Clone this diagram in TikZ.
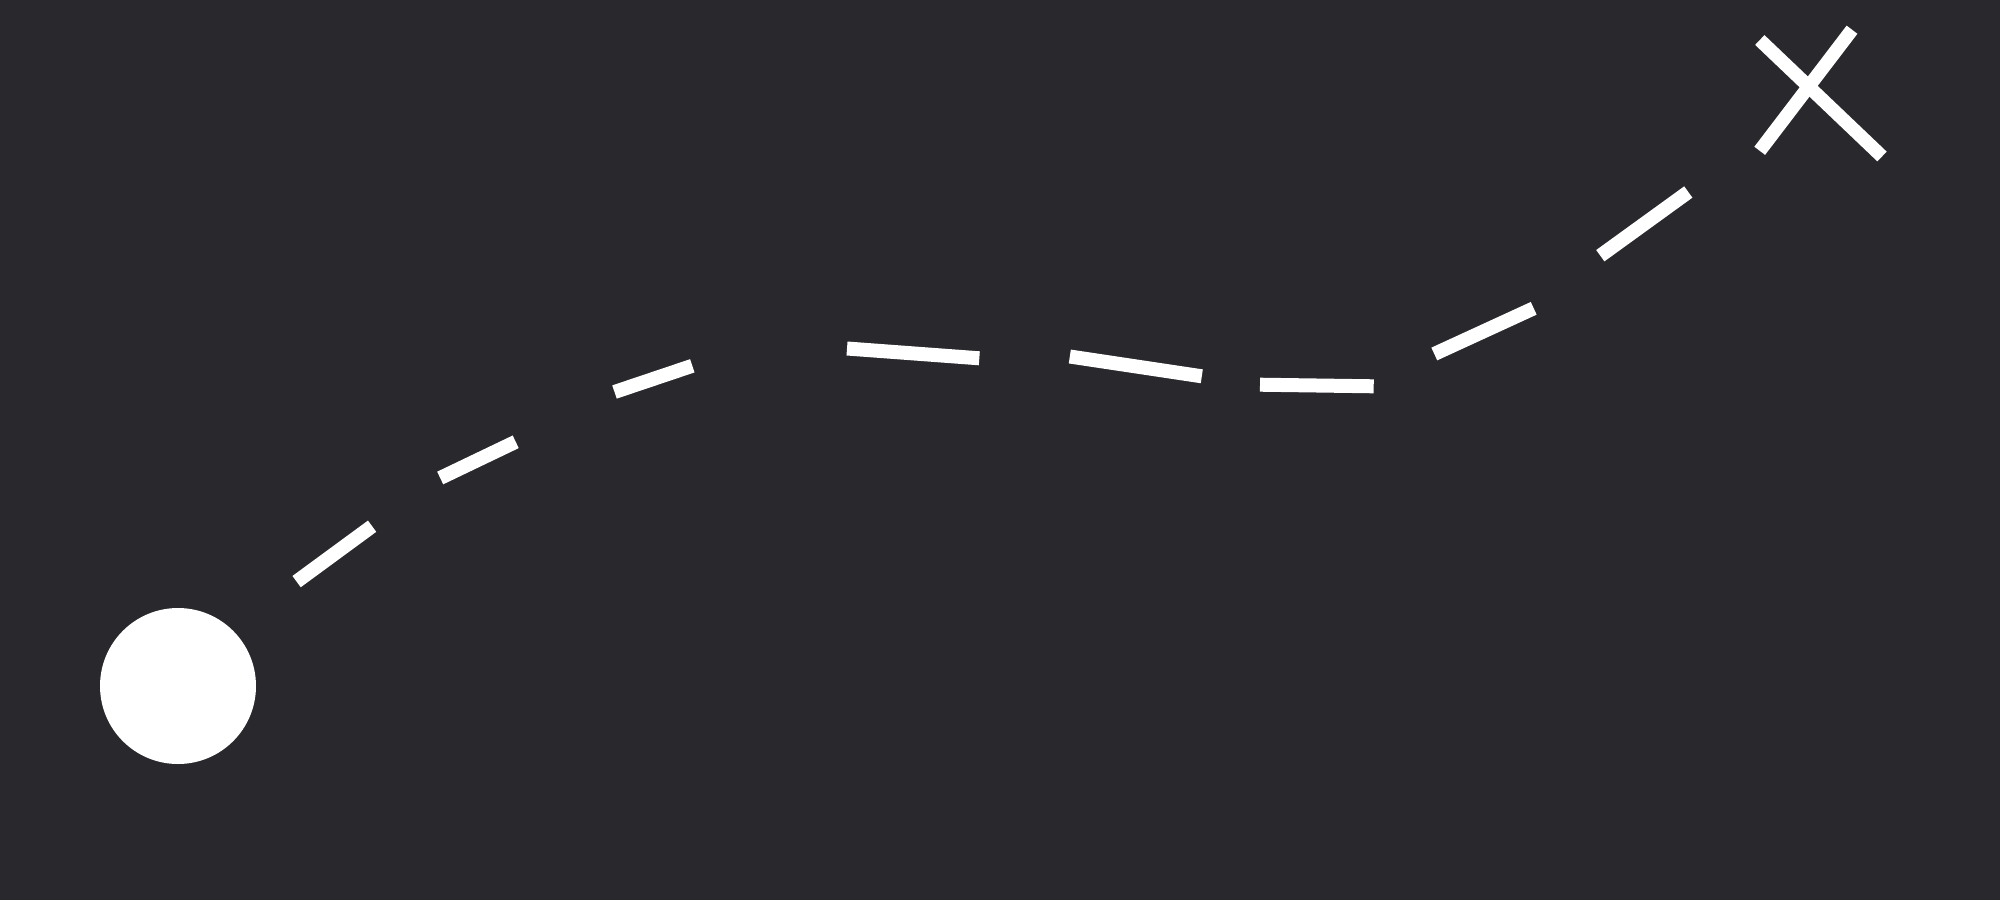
\documentclass[tikz,border=0pt]{standalone}
\definecolor{bgdark}{RGB}{41,40,45}
\tikzset{
  dashseg/.style={draw=white, line width=14pt, line cap=butt},
  crossbar/.style={draw=white, line width=13.5pt, line cap=butt},
  startdot/.style={circle, fill=white, draw=none, minimum size=156pt, inner sep=0pt}
}
\begin{document}
\begin{tikzpicture}[x=1pt, y=-1pt]
  \fill[bgdark] (0,0) rectangle (2000,900);
  \useasboundingbox (0,0) rectangle (2000,900);
  \node[startdot] (start) at (178,686) {};
  % dashed route segments
  \draw[dashseg] (296.6,581.6) -- (372.1,526.2);
  \draw[dashseg] (440.2,478) -- (515.7,441.8);
  \draw[dashseg] (614.5,392) -- (692.3,365.8);
  \draw[dashseg] (847,348.5) -- (979.3,358.3);
  \draw[dashseg] (1069.8,356.5) -- (1201.8,376.3);
  \draw[dashseg] (1260,384.7) -- (1373.7,386.3);
  \draw[dashseg] (1434.3,354) -- (1533.7,308.3);
  \draw[dashseg] (1600.3,255.7) -- (1688.3,192);
  % end cross
  \coordinate (xa1) at (1759.8,40);
  \coordinate (xa2) at (1882,156.5);
  \coordinate (xb1) at (1852,29.7);
  \coordinate (xb2) at (1759.7,150.8);
  \draw[crossbar] (xa1) -- (xa2);
  \draw[crossbar] (xb1) -- (xb2);
\end{tikzpicture}
\end{document}
